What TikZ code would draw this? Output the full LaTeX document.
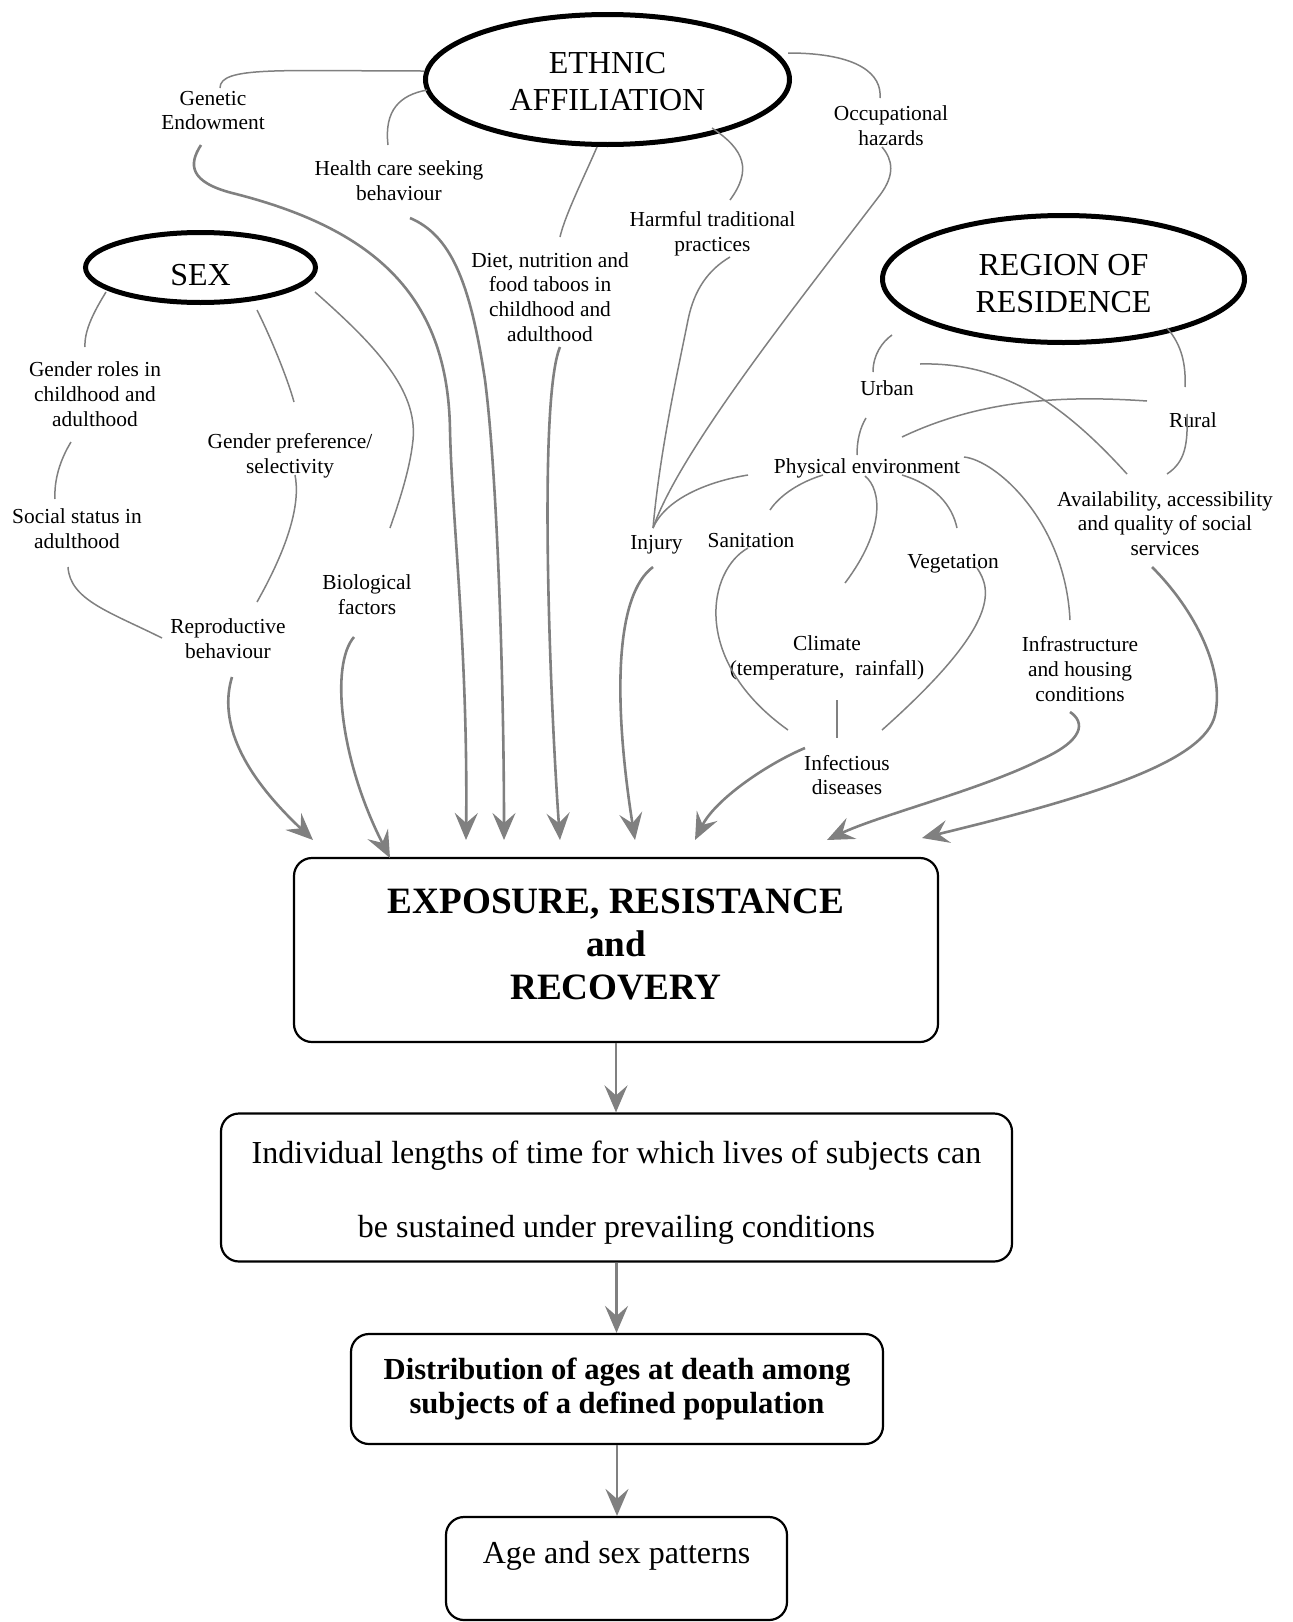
\documentclass[tikz,border=0pt]{standalone}
\usepackage{fontspec}
\setmainfont{Liberation Serif}
\usetikzlibrary{shapes.geometric,arrows.meta,calc}
\definecolor{linegray}{RGB}{128,128,128}
\newcommand{\stk}[2]{\raisebox{#1}[\height][\depth]{\begin{tabular}{@{}c@{}}#2\end{tabular}}}
\begin{document}
\begin{tikzpicture}[x=0.5pt,y=-0.5pt,
  lab/.style={font=\fontsize{10.7}{12.4}\selectfont, align=center, inner sep=0pt},
  big/.style={draw=black, line width=2.5pt, ellipse, inner sep=0pt, font=\fontsize{16}{18.6}\selectfont},
  box/.style={draw=black, line width=1.1pt, rounded corners=9pt, inner sep=0pt, align=center},
  ln/.style={draw=linegray, line width=0.75pt},
  arr/.style={draw=linegray, line width=1.3pt, -{Stealth[length=13.5pt,width=11.5pt,inset=5pt]}},
]
\useasboundingbox (0,0) rectangle (1292,1622);

% main ellipses
\node[big, minimum width=182pt, minimum height=65pt] (eth) at (607.5,79.5) {\stk{-2.6pt}{ETHNIC\\AFFILIATION}};
\node[big, minimum width=115pt, minimum height=35pt] (sex) at (200.5,267.5) {\raisebox{-3.75pt}[\height][\depth]{SEX}};
\node[big, minimum width=181pt, minimum height=63.5pt] (reg) at (1063.5,279) {\stk{-3.6pt}{REGION OF\\RESIDENCE}};

% boxes
\node[box, minimum width=322pt, minimum height=92pt, font=\bfseries\fontsize{18.6}{21.5}\selectfont] (exp) at (616,950) {\stk{1.15pt}{EXPOSURE, RESISTANCE\\and\\RECOVERY}};
\node[box, minimum width=395.5pt, minimum height=72.5pt, font=\fontsize{16}{37}\selectfont] (ind) at (616.5,1187.5) {\stk{0.9pt}{Individual lengths of time for which lives of subjects can\\be sustained under prevailing conditions}};
\node[box, minimum width=266pt, minimum height=55pt, font=\bfseries\fontsize{15.3}{16.6}\selectfont] (dist) at (617,1389) {Distribution of ages at death among\\subjects of a defined population};
\node[box, minimum width=170.5pt, text height=23pt, text depth=28.5pt, font=\fontsize{16}{19}\selectfont] (age) at (616.5,1568.5) {Age and sex patterns};

% labels
\node[lab] (gen) at (213,110.5) {Genetic\\Endowment};
\node[lab] (hcs) at (399,180.5) {Health care seeking\\behaviour};
\node[lab] (diet) at (550,297) {Diet, nutrition and\\food taboos in\\childhood and\\adulthood};
\node[lab] (harm) at (712.5,233.5) {Harmful traditional\\practices};
\node[lab] (occ) at (891,125.5) {Occupational\\hazards};
\node[lab] (groles) at (95,394) {Gender roles in\\childhood and\\adulthood};
\node[lab] (gpref) at (290,455.5) {Gender preference/\\selectivity};
\node[lab] (soc) at (77,528.5) {Social status in\\adulthood};
\node[lab] (bio) at (367,595) {Biological\\factors};
\node[lab] (repro) at (228,639) {Reproductive\\behaviour};
\node[lab] (urban) at (887,388) {Urban};
\node[lab] (rural) at (1193,420) {Rural};
\node[lab] (phys) at (867,468) {Physical environment};
\node[lab] (avail) at (1165,523.5) {Availability, accessibility\\and quality of social\\services};
\node[lab] (inj) at (656.5,545) {Injury};
\node[lab] (san) at (751,541) {Sanitation};
\node[lab] (veg) at (953,564) {Vegetation};
\node[lab] (clim) at (827,657.5) {Climate\\(temperature,~ rainfall)};
\node[lab] (infra) at (1080,669) {Infrastructure\\and housing\\conditions};
\node[lab] (infd) at (847,775) {Infectious\\diseases};

% thin connectors
\draw[ln] ($(eth.center)+(-183.5,-8.5)$) .. controls (280,71) and (220,66) .. ($(gen.center)+(7,-22.5)$);
\draw[ln] ($(eth.center)+(-180.5,10.5)$) .. controls (400,95) and (384,110) .. ($(hcs.center)+(-11,-35.5)$);
\draw[ln] ($(eth.center)+(-10.5,67.5)$) .. controls (585,175) and (565,215) .. ($(diet.center)+(10,-60)$);
\draw[ln] ($(eth.center)+(104.5,48.5)$) .. controls (745,150) and (752,170) .. ($(harm.center)+(17.5,-33.5)$);
\draw[ln] ($(eth.center)+(180.5,-26.5)$) .. controls (860,53) and (882,75) .. ($(occ.center)+(-11,-27.5)$);
\draw[ln] ($(sex.center)+(-94.5,24.5)$) .. controls (95,310) and (84,330) .. ($(groles.center)+(-10,-47)$);
\draw[ln] ($(sex.center)+(56.5,42.5)$) .. controls (272,340) and (288,380) .. ($(gpref.center)+(4,-53.5)$);
\draw[ln] ($(sex.center)+(114.5,24.5)$) .. controls (375,345) and (418,390) .. (413,440) .. controls (410,470) and (398,505) .. ($(bio.center)+(23,-67)$);
\draw[ln] ($(groles.center)+(-24,48)$) .. controls (60,460) and (54,480) .. ($(soc.center)+(-22,-29.5)$);
\draw[ln] ($(soc.center)+(-9,38.5)$) .. controls (70,600) and (110,612) .. ($(repro.center)+(-66,-1)$);
\draw[ln] ($(gpref.center)+(5,19.5)$) .. controls (300,500) and (292,540) .. ($(repro.center)+(29,-37)$);
\draw[ln] ($(reg.center)+(-171.5,56)$) .. controls (882,342) and (873,355) .. ($(urban.center)+(-14,-16)$);
\draw[ln] ($(urban.center)+(33,-24)$) .. controls (1000,362) and (1060,400) .. ($(avail.center)+(-38,-49.5)$);
\draw[ln] ($(phys.center)+(35,-31)$) .. controls (980,400) and (1060,395) .. ($(rural.center)+(-46,-19)$);
\draw[ln] ($(reg.center)+(103.5,49)$) .. controls (1182,345) and (1186,365) .. ($(rural.center)+(-8,-33)$);
\draw[ln] ($(rural.center)+(-6,-6)$) .. controls (1188,445) and (1185,462) .. ($(avail.center)+(2,-49.5)$);
\draw[ln] ($(urban.center)+(-21,30)$) .. controls (860,428) and (857,440) .. ($(phys.center)+(-10,-13)$);
\draw[ln] ($(phys.center)+(-119,7)$) .. controls (705,482) and (665,500) .. ($(inj.center)+(-3.5,-17)$);
\draw[ln] ($(harm.center)+(17.5,23.5)$) .. controls (708,270) and (694,290) .. (688,320) .. controls (678,370) and (660,450) .. ($(inj.center)+(-3.5,-17)$);
\draw[ln] ($(occ.center)+(-9,21.5)$) .. controls (893,160) and (895,175) .. (880,195) .. controls (800,300) and (680,450) .. ($(inj.center)+(-3.5,-17)$);
\draw[ln] ($(phys.center)+(-44,7)$) .. controls (800,482) and (780,495) .. ($(san.center)+(19,-31)$);
\draw[ln] ($(phys.center)+(-2,8)$) .. controls (882,490) and (885,530) .. ($(clim.center)+(18,-74.5)$);
\draw[ln] ($(phys.center)+(35,7)$) .. controls (935,485) and (952,505) .. ($(veg.center)+(4,-36)$);
\draw[ln] ($(phys.center)+(97,-11)$) .. controls (995,460) and (1065,520) .. ($(infra.center)+(-10,-49)$);
\draw[ln] ($(san.center)+(-3,7)$) .. controls (708,570) and (690,660) .. ($(infd.center)+(-59,-45)$);
\draw[ln] ($(veg.center)+(24,4)$) .. controls (992,590) and (1000,625) .. ($(infd.center)+(35,-45)$);
\draw[ln] ($(clim.center)+(10,42.5)$) -- ($(infd.center)+(-10,-37)$);

% arrows into the exposure box
\draw[arr] ($(repro.center)+(4,38)$) .. controls (222,710) and (228,760) .. ($(exp.center)+(-303,-110)$);
\draw[arr] ($(bio.center)+(-13,42)$) .. controls (330,665) and (340,760) .. ($(exp.center)+(-226,-92)$);
\draw[arr] ($(gen.center)+(-12,34.5)$) .. controls (188,165) and (190,182) .. (232,193) .. controls (380,230) and (448,300) .. (450,430) .. controls (452,520) and (468,650) .. ($(exp.center)+(-150,-110)$);
\draw[arr] ($(hcs.center)+(11,37.5)$) .. controls (450,235) and (470,280) .. (485,380) .. controls (498,480) and (504,700) .. ($(exp.center)+(-112,-110)$);
\draw[arr] ($(diet.center)+(10,50)$) .. controls (538,400) and (550,700) .. ($(exp.center)+(-56,-110)$);
\draw[arr] ($(inj.center)+(-3.5,22)$) .. controls (615,595) and (613,700) .. ($(exp.center)+(19,-110)$);
\draw[arr] ($(infd.center)+(-42,-27)$) .. controls (765,765) and (715,800) .. ($(exp.center)+(79,-110)$);
\draw[arr] ($(infra.center)+(-10,43)$) .. controls (1085,722) and (1085,740) .. (1040,760) .. controls (980,790) and (880,815) .. ($(exp.center)+(211,-110)$);
\draw[arr] ($(avail.center)+(-13,43.5)$) .. controls (1195,610) and (1225,670) .. (1215,715) .. controls (1205,760) and (1100,795) .. ($(exp.center)+(306,-112)$);

% arrows down the chain
\draw[arr] (exp.south) -- (exp.south |- ind.north);
\draw[arr] (ind.south) -- (ind.south |- dist.north);
\draw[arr] (dist.south) -- (dist.south |- age.north);
\end{tikzpicture}
\end{document}
